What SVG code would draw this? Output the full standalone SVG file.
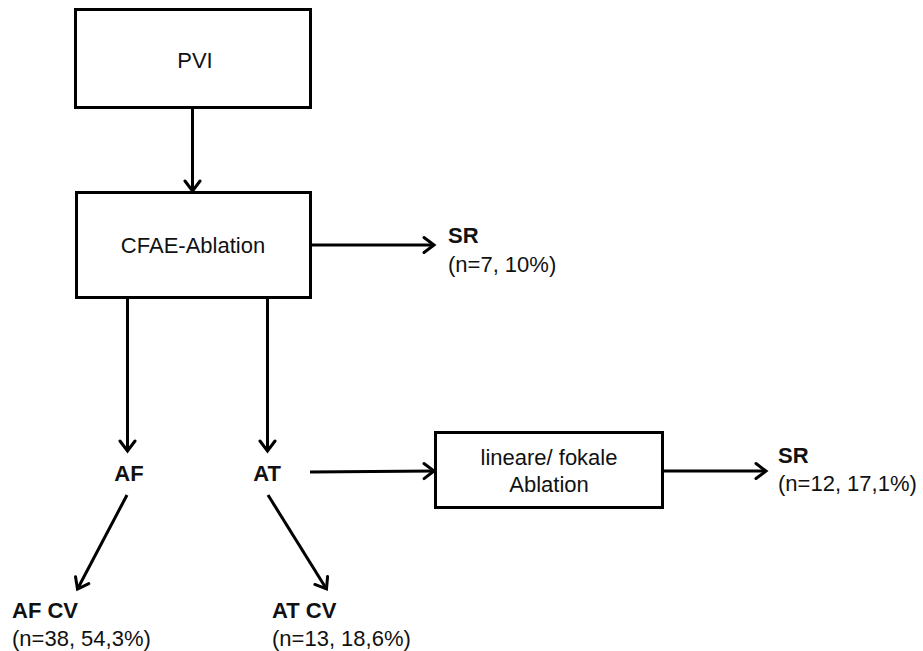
<svg xmlns="http://www.w3.org/2000/svg" width="923" height="651" viewBox="0 0 923 651">
<style>
  .box { fill: #fff; stroke: #000; stroke-width: 3; }
  .t { font-family: "Liberation Sans", Arial, Helvetica, sans-serif; font-size: 22px; fill: #111; }
  .b { font-weight: bold; }
  .c { text-anchor: middle; }
  .conn line { stroke: #000; stroke-width: 3; marker-end: url(#arr); }
</style>
<defs>
  <marker id="arr" viewBox="-13 -10 16 20" refX="0" refY="0" markerWidth="16" markerHeight="20" markerUnits="userSpaceOnUse" orient="auto">
    <path d="M-10,-7.5 L0,0 L-10,7.5" fill="none" stroke="#000" stroke-width="3" stroke-linecap="round" stroke-linejoin="miter"/>
  </marker>
</defs>
<rect width="923" height="651" fill="#fff"/>

<g id="pvi">
  <rect class="box" x="75.5" y="9.5" width="235" height="98"/>
  <text class="t c" x="195" y="68">PVI</text>
</g>
<g id="cfae">
  <rect class="box" x="76.5" y="192.5" width="234" height="105"/>
  <text class="t c" x="193" y="253">CFAE-Ablation</text>
</g>
<g id="sr1">
  <text class="t b" x="448" y="243">SR</text>
  <text class="t" x="448" y="272">(n=7, 10%)</text>
</g>
<g id="af">
  <text class="t b c" x="129" y="481">AF</text>
</g>
<g id="at">
  <text class="t b c" x="267" y="481">AT</text>
</g>
<g id="linfok">
  <rect class="box" x="435.5" y="432.5" width="227" height="75"/>
  <text class="t c" x="549" y="465">lineare/ fokale</text>
  <text class="t c" x="549" y="492">Ablation</text>
</g>
<g id="sr2">
  <text class="t b" x="778" y="463">SR</text>
  <text class="t" x="778" y="491">(n=12, 17,1%)</text>
</g>
<g id="afcv">
  <text class="t b" x="12" y="618">AF CV</text>
  <text class="t" x="12" y="646">(n=38, 54,3%)</text>
</g>
<g id="atcv">
  <text class="t b" x="272" y="618">AT CV</text>
  <text class="t" x="272" y="646">(n=13, 18,6%)</text>
</g>

<g class="conn" id="connectors">
  <line x1="192.5" y1="107" x2="192.5" y2="191"/>
  <line x1="310" y1="245" x2="434" y2="245"/>
  <line x1="127.5" y1="297" x2="127.5" y2="451"/>
  <line x1="267.5" y1="297" x2="267.5" y2="451"/>
  <line x1="310" y1="472" x2="434" y2="471"/>
  <line x1="663" y1="471" x2="766" y2="471"/>
  <line x1="127" y1="495" x2="77.5" y2="589"/>
  <line x1="268" y1="495" x2="326.5" y2="589"/>
</g>
</svg>
